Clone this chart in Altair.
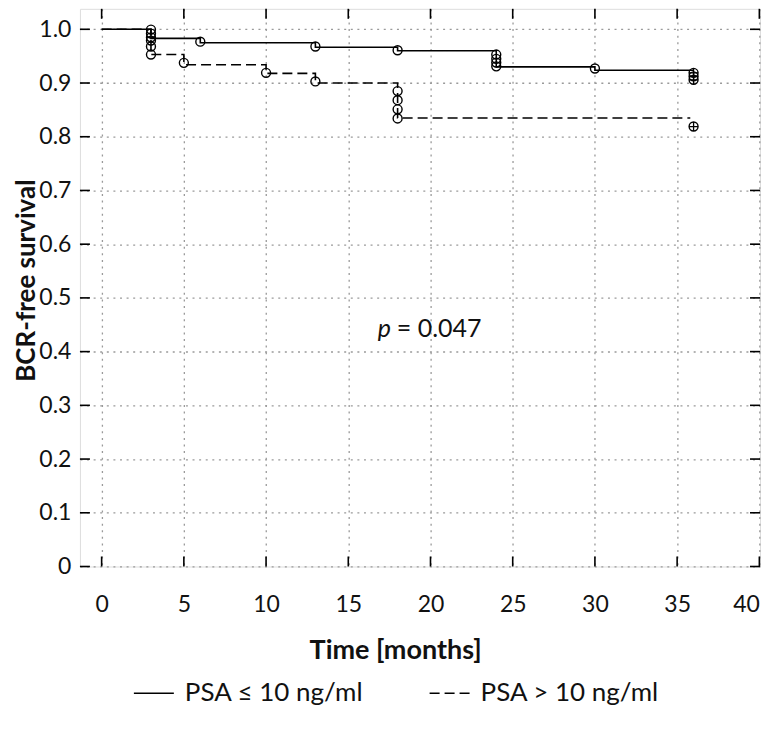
import altair as alt
import pandas as pd

# ---------------- data ----------------
groups = ["PSA ≤ 10 ng/ml", "PSA > 10 ng/ml"]

low_time = [0, 3, 6, 13, 18, 24, 30, 36]
low_surv = [1.0, 0.983, 0.975, 0.9665, 0.960, 0.930, 0.9237, 0.9237]

high_time = [0, 3, 5, 10, 13, 18, 35.8]
high_surv = [1.0, 0.953, 0.934, 0.918, 0.900, 0.835, 0.835]

low_cens_time = [3, 3, 3, 3, 6, 13, 18, 24, 24, 24, 24, 30, 36, 36, 36]
low_cens_surv = [0.9994, 0.992, 0.985, 0.979, 0.977, 0.968, 0.961, 0.953, 0.945, 0.938, 0.931, 0.927, 0.919, 0.9125, 0.906]

high_cens_time = [3, 3, 5, 10, 13, 18, 18, 18, 18, 36]
high_cens_surv = [0.968, 0.953, 0.9375, 0.919, 0.903, 0.885, 0.868, 0.851, 0.834, 0.819]

plus_time = [36, 36, 36, 36]
plus_surv = [0.919, 0.9125, 0.906, 0.819]

x_ticks = [0, 5, 10, 15, 20, 25, 30, 35, 40]
y_ticks = [0, 0.1, 0.2, 0.3, 0.4, 0.5, 0.6, 0.7, 0.8, 0.9, 1.0]

p_parts = ["p", "= 0.047"]
p_x = [17.2, 17.95]
p_y = [0.443, 0.443]

x_title = "Time [months]"
y_title = "BCR-free survival"

# ---------------- layout ----------------
W = 680.7
H = 558.2
FONT = "Lato"

lines_df = pd.DataFrame({
    "time": low_time + high_time,
    "surv": low_surv + high_surv,
    "group": [groups[0]] * len(low_time) + [groups[1]] * len(high_time),
})
cens_df = pd.DataFrame({"time": low_cens_time + high_cens_time,
                        "surv": low_cens_surv + high_cens_surv})
plus_df = pd.DataFrame({"time": plus_time, "surv": plus_surv})
xt_df = pd.DataFrame({"time": x_ticks})
yt_df = pd.DataFrame({"surv": y_ticks})
p_df = pd.DataFrame({"time": p_x, "surv": p_y, "txt": p_parts})

xscale = alt.Scale(domain=[-1.32, 40.04], nice=False, zero=False)
yscale = alt.Scale(domain=[0, 1.0381], nice=False, zero=False)

xaxis = alt.Axis(values=x_ticks, title=x_title, grid=True, domain=False, ticks=False,
                 tickSize=0, labelPadding=27, labelFontSize=23, labelFont=FONT,
                 labelColor="#111", titleFont=FONT, titleFontSize=27, titleFontWeight="bold",
                 titleColor="#111", titleX=315.5, titleY=84, titleBaseline="middle",
                 titleAnchor="start", titleAlign="center",
                 gridColor="#9a9a9a", gridDash=[2, 4.6], gridWidth=1.3)
yaxis = alt.Axis(values=y_ticks, title=y_title, grid=True, domain=False, ticks=False,
                 tickSize=0, labelPadding=9, labelFontSize=23, labelFont=FONT,
                 labelColor="#111",
                 labelExpr="datum.value == 0 ? '0' : format(datum.value, '.1f')",
                 titleFont=FONT, titleFontSize=26, titleFontWeight="bold", titleColor="#111",
                 titleX=-53, titleY=271.5, titleBaseline="middle", titleAlign="center",
                 titleAngle=270,
                 gridColor="#9a9a9a", gridDash=[2, 4.6], gridWidth=1.3)


def X(field="time"):
    return alt.X(f"{field}:Q", scale=xscale, axis=xaxis)


def Y(field="surv"):
    return alt.Y(f"{field}:Q", scale=yscale, axis=yaxis)


curves = alt.Chart(lines_df).mark_line(interpolate="step-after", color="black",
                                        strokeWidth=1.6).encode(
    x=X(), y=Y(),
    strokeDash=alt.StrokeDash(
        "group:N",
        scale=alt.Scale(domain=groups, range=[[1, 0], [10, 5]]),
        legend=alt.Legend(title=None, orient="none", legendX=53, legendY=664,
                          direction="horizontal", symbolType="stroke",
                          symbolSize=1600, symbolStrokeWidth=1.6,
                          symbolStrokeColor="black", labelFont=FONT,
                          labelFontSize=26, labelColor="#111", labelOffset=10,
                          columnPadding=62, labelLimit=400),
    ),
    detail="group:N",
)

circles = alt.Chart(cens_df).mark_point(shape="circle", filled=False, size=80,
                                        color="black", strokeWidth=1.4, opacity=1).encode(
    x=X(), y=Y())

pluses = alt.Chart(plus_df).mark_point(shape="M-1,0L1,0M0,-1L0,1", filled=False, size=80,
                                       color="black", strokeWidth=1.3, opacity=1).encode(
    x=X(), y=Y())

top_ticks = alt.Chart(xt_df).mark_rule(color="black", strokeWidth=1.6).encode(
    x=X(), y=alt.value(0), y2=alt.value(10))
bottom_ticks = alt.Chart(xt_df).mark_rule(color="black", strokeWidth=1.6).encode(
    x=X(), y=alt.value(H), y2=alt.value(H - 10))
left_ticks = alt.Chart(yt_df).mark_rule(color="black", strokeWidth=1.6).encode(
    y=Y(), x=alt.value(0), x2=alt.value(10))
right_ticks = alt.Chart(yt_df).mark_rule(color="black", strokeWidth=1.6).encode(
    y=Y(), x=alt.value(W - 10), x2=alt.value(W))

p_italic = alt.Chart(p_df[p_df["txt"] == "p"]).mark_text(
    font=FONT, fontSize=25, fontStyle="italic", color="#111", align="center",
    baseline="middle").encode(x=X(), y=Y(), text="txt:N")
p_rest = alt.Chart(p_df[p_df["txt"] != "p"]).mark_text(
    font=FONT, fontSize=25, color="#111", align="left",
    baseline="middle").encode(x=X(), y=Y(), text="txt:N")

chart = alt.layer(
    top_ticks, bottom_ticks, left_ticks, right_ticks,
    curves, circles, pluses, p_italic, p_rest,
).properties(
    width=W, height=H,
    autosize=alt.AutoSizeParams(type="none"),
    padding={"left": 72, "top": 0.5, "right": 4, "bottom": 150},
).configure_view(
    stroke="black", strokeWidth=1.6
).configure(background="white")

chart.save("out.html", embed_options={"renderer": "svg", "actions": False})
